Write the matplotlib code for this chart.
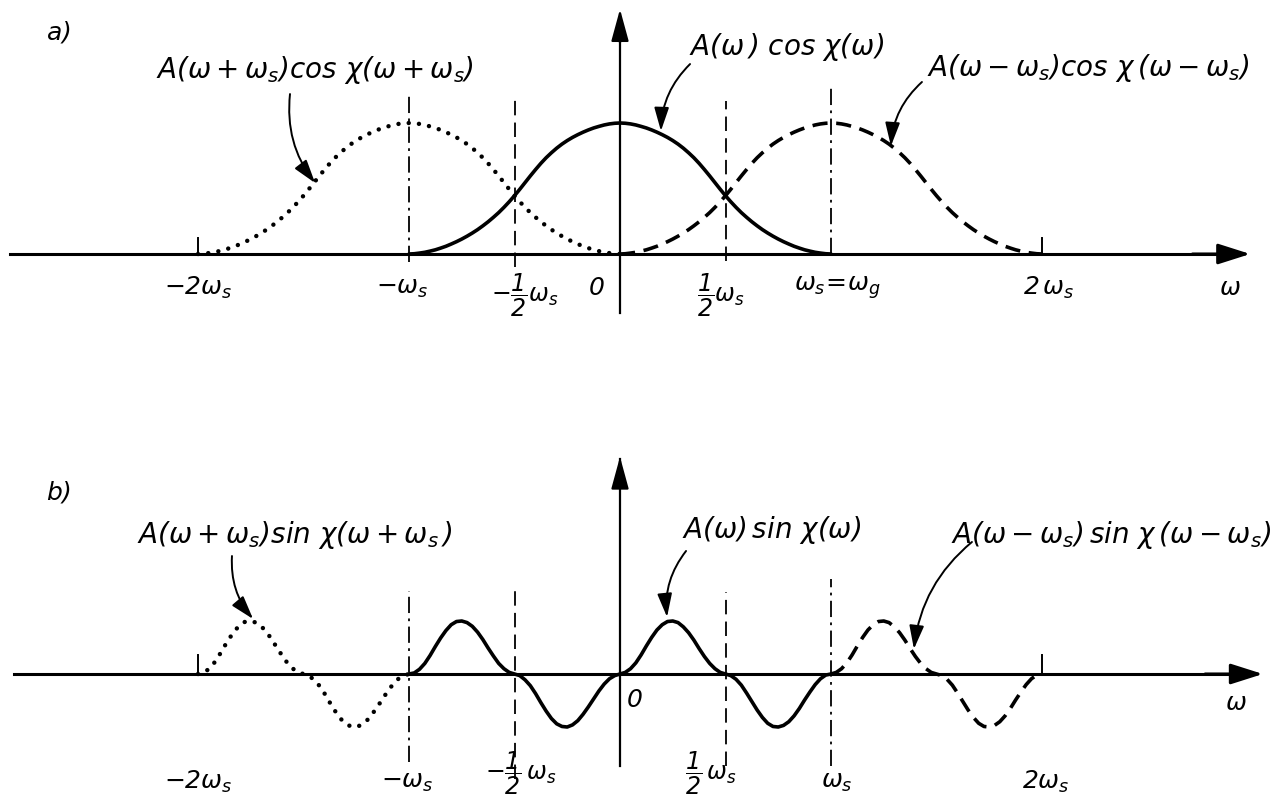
import numpy as np
import matplotlib
matplotlib.use("Agg")
import matplotlib.pyplot as plt

# amplitude A(w)cos X(w) for w = 0 .. ws in steps of ws/40 (symmetric)
omega_half = [i * 0.025 for i in range(41)]
cos_half = [1.000, 0.998, 0.993, 0.985, 0.974, 0.962, 0.947, 0.930, 0.911, 0.890,
            0.866, 0.839, 0.808, 0.773, 0.735, 0.692, 0.645, 0.596, 0.545, 0.494,
            0.445, 0.399, 0.356, 0.316, 0.280, 0.246, 0.215, 0.186, 0.160, 0.136,
            0.114, 0.094, 0.076, 0.059, 0.045, 0.032, 0.022, 0.013, 0.007, 0.002,
            0.000]

# A(w)sin X(w) for w = -ws .. ws in steps of ws/40
omega_b = [-1 + i * 0.025 for i in range(81)]
sin_vals = [0.00, 0.02, 0.09, 0.20, 0.35, 0.52, 0.68, 0.82, 0.93, 0.99, 1.00,
            0.97, 0.90, 0.79, 0.65, 0.49, 0.34, 0.20, 0.10, 0.03, 0.00,
            -0.03, -0.11, -0.22, -0.37, -0.54, -0.70, -0.84, -0.94, -0.99, -1.00,
            -0.96, -0.88, -0.76, -0.62, -0.47, -0.32, -0.19, -0.09, -0.03, 0.00,
            0.03, 0.10, 0.21, 0.36, 0.53, 0.69, 0.83, 0.93, 0.99, 1.00,
            0.97, 0.89, 0.78, 0.64, 0.48, 0.33, 0.20, 0.10, 0.03, 0.00,
            -0.03, -0.10, -0.21, -0.36, -0.52, -0.68, -0.82, -0.93, -0.99, -1.00,
            -0.97, -0.90, -0.79, -0.65, -0.49, -0.34, -0.20, -0.09, -0.02, 0.00]

shifts = [-1, 0, 1]
dashed_marks = [-0.5, 0.5]
dashdot_marks = [-1, 1]
end_ticks = [-2, 2]

labels_a = [r"$A(\omega+\omega_s)cos\ \chi(\omega+\omega_s)$",
            r"$A(\omega\,)\ cos\ \chi(\omega)$",
            r"$A(\omega-\omega_s)cos\ \chi\,(\omega-\omega_s)$"]
labels_b = [r"$A(\omega+\omega_s)sin\ \chi(\omega+\omega_s\,)$",
            r"$A(\omega)\,sin\ \chi(\omega)$",
            r"$A(\omega-\omega_s)\,sin\ \chi\,(\omega-\omega_s)$"]

plt.rcParams['mathtext.fontset'] = 'custom'
plt.rcParams['mathtext.rm'] = 'DejaVu Sans:italic'
plt.rcParams['mathtext.it'] = 'DejaVu Sans:italic'
plt.rcParams['mathtext.sf'] = 'DejaVu Sans:italic'
plt.rcParams['mathtext.default'] = 'it'
plt.rcParams['font.style'] = 'italic'

W, H = 1287, 803
fig = plt.figure(figsize=(W / 100, H / 100), dpi=100)
fig.patch.set_facecolor('white')

x0, xs = 620, 211  # pixel of w=0, pixels per ws
xlim = (-x0 / xs, (W - x0) / xs)

# panel a: pixels 0..330, axis at 255, unit 131 px
ax_a = fig.add_axes([0, 1 - 330 / H, 1, 330 / H])
ax_a.set_xlim(*xlim)
ax_a.set_ylim(-(330 - 255) / 131, 255 / 131)
# panel b: pixels 420..803, axis at 675, unit 53 px
ax_b = fig.add_axes([0, 0, 1, 383 / H])
ax_b.set_xlim(*xlim)
ax_b.set_ylim(-(803 - 675) / 53, (675 - 420) / 53)

styles = [dict(linestyle=(0, (0.01, 2.3)), lw=3.2, dash_capstyle='round'),
          dict(linestyle='-', lw=2.6, solid_capstyle='round', solid_joinstyle='round'),
          dict(linestyle=(0, (4.2, 2.4)), lw=2.6)]

om_full = np.concatenate([-np.array(omega_half[::-1]), np.array(omega_half[1:])])
cos_full = np.concatenate([np.array(cos_half[::-1]), np.array(cos_half[1:])])
om_b = np.array(omega_b)
sin_b = np.array(sin_vals)

for sh, st in zip(shifts, styles):
    ax_a.plot(om_full + sh, cos_full, color='black', zorder=3, **st)
    xb = om_b + sh
    # shifted copies are only visible outside the base band
    keep = np.ones(len(xb), bool) if sh == 0 else np.abs(xb) >= 1 - 1e-9
    ax_b.plot(xb[keep], sin_b[keep], color='black', zorder=3, **st)


def axes_lines(ax, x_from, x_to, y_top, y_bot):
    ax.plot([x_from, x_to - 0.1], [0, 0], color='black', lw=2.2, zorder=2)
    ax.annotate('', xy=(x_to, 0), xytext=(x_to - 0.3, 0),
                arrowprops=dict(arrowstyle='-|>,head_length=1.1,head_width=0.35',
                                color='black', lw=2.2, mutation_scale=18))
    ax.plot([0, 0], [y_bot, y_top - 0.1], color='black', lw=1.6, zorder=2)
    ax.annotate('', xy=(0, y_top), xytext=(0, y_top - 0.3),
                arrowprops=dict(arrowstyle='-|>,head_length=1.1,head_width=0.3',
                                color='black', lw=1.6, mutation_scale=18))


axes_lines(ax_a, -2.89, 3.0, 1.89, -0.45)
axes_lines(ax_b, -2.87, 3.06, 4.15, -1.74)

# vertical marker lines
for xm, (ya, yb) in zip(dashdot_marks, [(1.206, -0.06), (1.275, 0.0)]):
    ax_a.plot([xm, xm], [yb, ya], color='black', lw=1.3, linestyle=(0, (9, 3, 1.5, 3)))
for xm, (ya, yb) in zip(dashed_marks, [(1.206, -0.10), (1.168, -0.05)]):
    ax_a.plot([xm, xm], [yb, ya], color='black', lw=1.3, linestyle=(0, (8, 4)))
for xm, (ya, yb) in zip(dashdot_marks, [(1.566, -1.66), (1.79, -1.74)]):
    ax_b.plot([xm, xm], [yb, ya], color='black', lw=1.3, linestyle=(0, (9, 3, 1.5, 3)))
for xm, (ya, yb) in zip(dashed_marks, [(1.566, -1.98), (1.547, -1.74)]):
    ax_b.plot([xm, xm], [yb, ya], color='black', lw=1.3, linestyle=(0, (8, 4)))

for xt in end_ticks:
    ax_a.plot([xt, xt], [0, 0.12], color='black', lw=1.4)
    ax_b.plot([xt, xt], [0, 0.36], color='black', lw=1.4)

fs = 18
# tick labels panel a
ya = -0.25
ax_a.text(-2.0, ya, r"$-2\omega_s$", fontsize=fs, ha='center', va='center')
ax_a.text(-1.03, ya, r"$-\omega_s$", fontsize=fs, ha='center', va='center')
ax_a.text(-0.45, ya - 0.06, r"$-\dfrac{1}{2}\omega_s$", fontsize=fs - 1, ha='center', va='center')
ax_a.text(-0.11, ya, r"$0$", fontsize=fs, ha='center', va='center')
ax_a.text(0.48, ya - 0.06, r"$\dfrac{1}{2}\omega_s$", fontsize=fs - 1, ha='center', va='center')
ax_a.text(1.03, ya, r"$\omega_s\!=\!\omega_g$", fontsize=fs, ha='center', va='center')
ax_a.text(2.03, ya, r"$2\,\omega_s$", fontsize=fs, ha='center', va='center')
ax_a.text(2.89, ya, r"$\omega$", fontsize=fs, ha='center', va='center')

# tick labels panel b
yb = -2.02
ax_b.text(-2.0, yb, r"$-2\omega_s$", fontsize=fs, ha='center', va='center')
ax_b.text(-1.01, yb, r"$-\omega_s$", fontsize=fs, ha='center', va='center')
ax_b.text(-0.47, -1.86, r"$-\dfrac{1}{2}\,\omega_s$", fontsize=fs - 1, ha='center', va='center')
ax_b.text(0.43, -1.86, r"$\dfrac{1}{2}\,\omega_s$", fontsize=fs - 1, ha='center', va='center')
ax_b.text(1.03, yb, r"$\omega_s$", fontsize=fs, ha='center', va='center')
ax_b.text(2.02, yb, r"$2\omega_s$", fontsize=fs, ha='center', va='center')
ax_b.text(0.07, -0.47, r"$0$", fontsize=fs, ha='center', va='center')
ax_b.text(2.92, -0.53, r"$\omega$", fontsize=fs, ha='center', va='center')

ax_a.text(-2.66, 1.70, r"$a)$", fontsize=fs, ha='center', va='center')
ax_b.text(-2.66, 3.45, r"$b)$", fontsize=fs, ha='center', va='center')

# annotations
arrow_kw = dict(arrowstyle='-|>,head_length=0.8,head_width=0.25', color='black',
                lw=1.4, mutation_scale=18, shrinkA=0, shrinkB=0)
ann_a = [((-1.445, 1.412), (-1.564, 1.221), (-1.445, 0.542)),
         ((0.787, 1.588), (0.332, 1.450), (0.194, 0.939)),
         ((2.218, 1.427), (1.431, 1.313), (1.284, 0.824))]
ann_b = [((-1.540, 2.642), (-1.839, 2.226), (-1.739, 1.038)),
         ((0.720, 2.736), (0.313, 2.321), (0.223, 1.075)),
         ((2.325, 2.642), (1.668, 2.491), (1.393, 0.472))]

for ax, labs, anns in [(ax_a, labels_a, ann_a), (ax_b, labels_b, ann_b)]:
    for lab, (tpos, start, end) in zip(labs, anns):
        ax.text(tpos[0], tpos[1], lab, fontsize=fs + 2, ha='center', va='center')
        ax.annotate('', xy=end, xytext=start,
                    arrowprops=dict(connectionstyle='arc3,rad=0.2', **arrow_kw))

for ax in (ax_a, ax_b):
    ax.axis('off')

fig.savefig('out.png', dpi=100, facecolor='white')
